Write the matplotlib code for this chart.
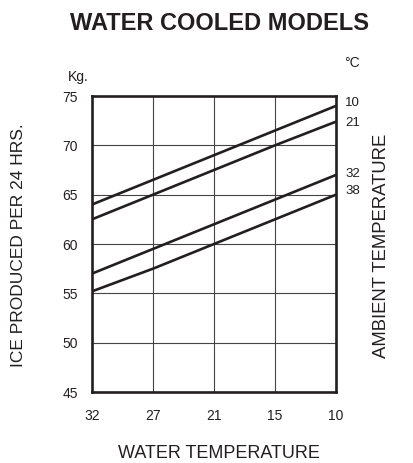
import matplotlib
matplotlib.use("Agg")
import matplotlib.pyplot as plt
import numpy as np

plt.rcParams['font.family'] = ['Liberation Sans', 'DejaVu Sans']

water_temps = ["32", "27", "21", "15", "10"]
ambient_labels = ["10", "21", "32", "38"]
ice_10 = [64.0, 66.5, 69.0, 71.5, 74.0]
ice_21 = [62.5, 65.0, 67.5, 70.0, 72.4]
ice_32 = [57.0, 59.5, 62.0, 64.5, 67.0]
ice_38 = [55.2, 57.5, 60.0, 62.5, 65.0]
y_ticks = [45, 50, 55, 60, 65, 70, 75]

series = [ice_10, ice_21, ice_32, ice_38]
label_offsets = [3, -1.5, 0.5, 4]  # pixels (vertical tweak of end labels)

W, H = 413, 463
fig = plt.figure(figsize=(W / 100, H / 100), dpi=100)
ax = fig.add_axes([92 / W, 1 - 392 / H, (336 - 92) / W, (392 - 96) / H])

ink = '#231f20'
x = np.arange(len(water_temps))
for vals in series:
    ax.plot(x, vals, color=ink, lw=1.9, solid_capstyle='butt', zorder=3)

ax.set_xlim(0, len(water_temps) - 1)
ax.set_ylim(45, 75)
ax.set_xticks(x)
ax.set_xticklabels(water_temps)
ax.set_yticks(y_ticks)
ax.tick_params(axis='both', length=0, labelsize=10, colors=ink)
ax.tick_params(axis='x', pad=12)
ax.tick_params(axis='y', pad=10)
ax.grid(True, color='#444444', lw=0.8, zorder=1)
for s in ax.spines.values():
    s.set_linewidth(1.9)
    s.set_color(ink)
    s.set_zorder(4)

for vals, lab, off in zip(series, ambient_labels, label_offsets):
    ax.annotate(lab, xy=(x[-1], vals[-1]), xytext=(9 * 0.72, off * 0.72),
                textcoords='offset points', ha='left', va='center',
                fontsize=9.5, color=ink, annotation_clip=False)

def ftext(px, py, s, **kw):
    fig.text(px / W, 1 - py / H, s, ha='center', va='center', color=ink, **kw)

ftext(219, 23, "WATER COOLED MODELS", fontsize=17, fontweight='bold')
ftext(78, 77, "Kg.", fontsize=10)
ftext(352, 63, "°C", fontsize=10)
ftext(219, 453, "WATER TEMPERATURE", fontsize=13)
ftext(19, 245, "ICE PRODUCED PER 24 HRS.", fontsize=12.5, rotation=90)
ftext(382, 246, "AMBIENT TEMPERATURE", fontsize=13.3, rotation=90)

fig.savefig("out.png", dpi=100)
